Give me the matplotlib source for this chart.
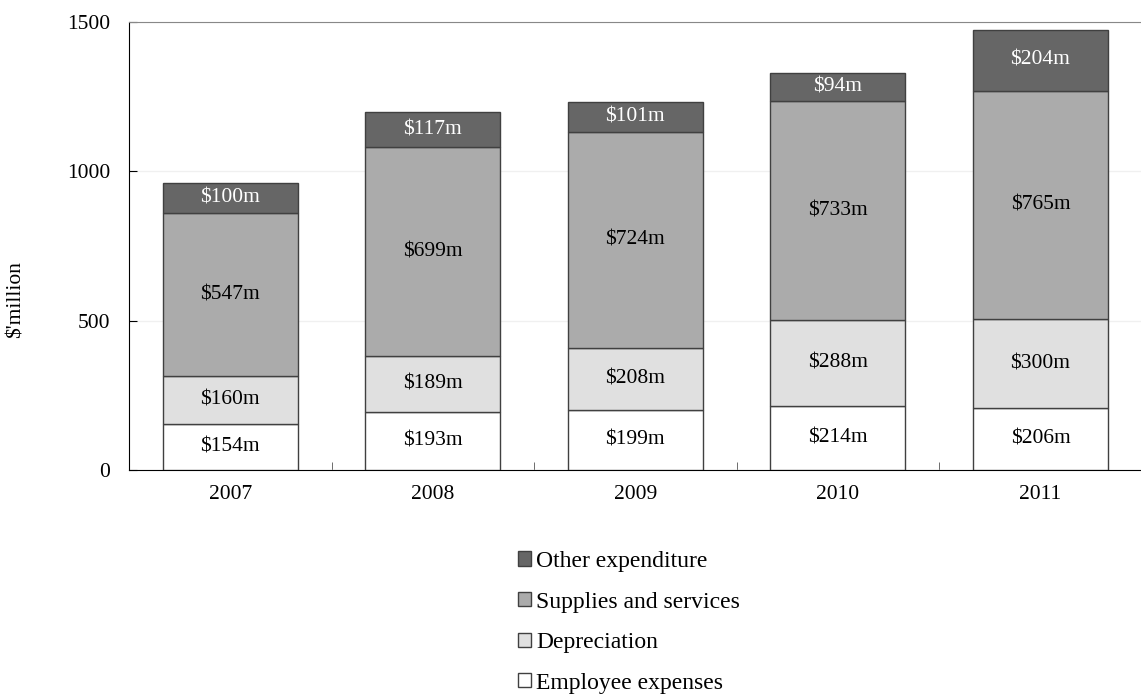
import numpy as np
import matplotlib.pyplot as plt
from matplotlib.patches import Patch

plt.rcParams['font.family'] = ['Liberation Serif', 'DejaVu Serif']

years = ['2007', '2008', '2009', '2010', '2011']
employee = [154, 193, 199, 214, 206]
depreciation = [160, 189, 208, 288, 300]
supplies = [547, 699, 724, 733, 765]
other = [100, 117, 101, 94, 204]

series = [
    ('Employee expenses', employee, '#ffffff', 'black'),
    ('Depreciation', depreciation, '#e0e0e0', 'black'),
    ('Supplies and services', supplies, '#ababab', 'black'),
    ('Other expenditure', other, '#666666', 'white'),
]

fig = plt.figure(figsize=(11.41, 6.96), dpi=100)
ax = fig.add_axes([0.113, 0.325, 0.893, 0.643])

x = np.arange(len(years))
bottom = np.zeros(len(years))
handles = []
for name, vals, color, txt_color in series:
    vals = np.array(vals, dtype=float)
    ax.bar(x, vals, width=0.667, bottom=bottom, color=color,
           edgecolor='#404040', linewidth=1, zorder=3)
    for xi, b, v in zip(x, bottom, vals):
        ax.text(xi, b + v / 2, f'${int(v)}m', ha='center', va='center',
                fontsize=15.5, color=txt_color, zorder=4)
    bottom += vals
    handles.append(Patch(facecolor=color, edgecolor='#404040', label=name))

ax.set_xlim(-0.5, 4.53)
ax.set_ylim(0, 1500)
ax.set_yticks([0, 500, 1000, 1500])
ax.set_xticks(x)
ax.set_xticklabels(years)
ax.set_xticks(np.arange(0.5, 4.5, 1), minor=True)
ax.tick_params(axis='x', which='major', length=0, labelsize=15.5, pad=11)
ax.tick_params(axis='x', which='minor', direction='in', length=6, color='#555555')
ax.tick_params(axis='y', direction='in', length=6, labelsize=15.5, pad=13.5)
ax.yaxis.grid(True, color='#f0f0f0', linewidth=1, zorder=0)

ax.spines['right'].set_visible(False)
ax.spines['top'].set_color('#888888')
ax.spines['left'].set_color('black')
ax.spines['bottom'].set_color('black')

fig.text(0.014, 0.57, "$'million", rotation=90, ha='center', va='center', fontsize=15.5)

fig.legend(handles=handles[::-1], loc='upper left', bbox_to_anchor=(0.446, 0.222),
           frameon=False, fontsize=17, handlelength=0.55, handleheight=0.55,
           handletextpad=0.2, labelspacing=0.83, borderaxespad=0)

fig.savefig('out.png', dpi=100)
